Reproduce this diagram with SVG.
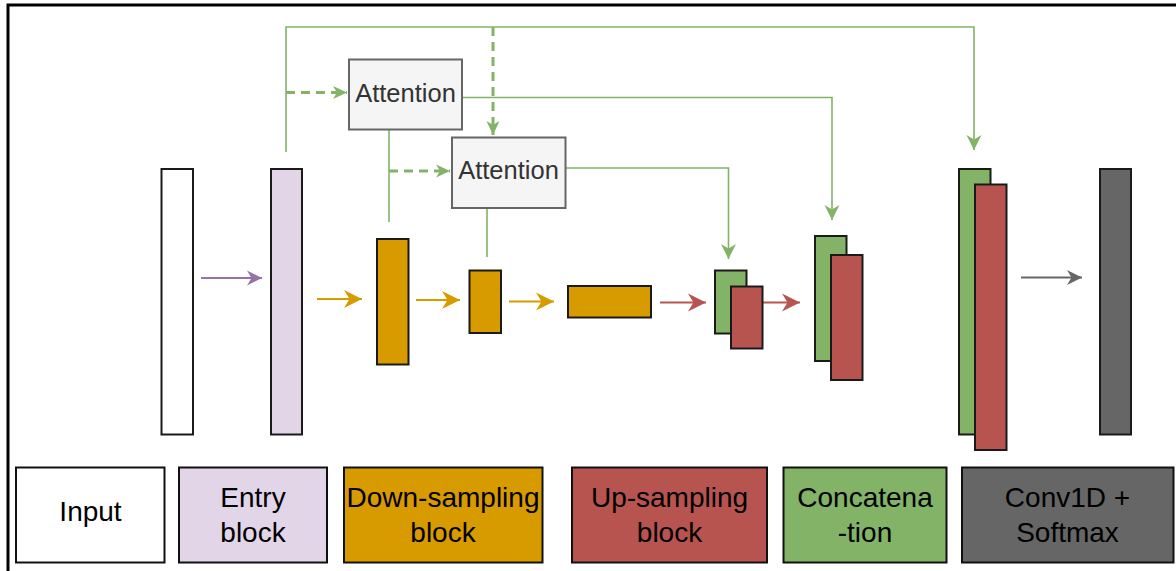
<svg xmlns="http://www.w3.org/2000/svg" width="1176" height="571" viewBox="0 0 1176 571">
<style>
.bar{stroke:#1a1a1a;stroke-width:2}
.leg{stroke:#111;stroke-width:2}
.att{fill:#f5f5f5;stroke:#666;stroke-width:2}
.lt{font-family:"Liberation Sans",Arial,sans-serif;font-size:28px;fill:#000;text-anchor:middle}
.at{font-family:"Liberation Sans",Arial,sans-serif;font-size:25.5px;fill:#333;text-anchor:middle}
.g{fill:none;stroke:#82b366;stroke-width:1.6}
.gd{fill:none;stroke:#82b366;stroke-width:3;stroke-dasharray:9 6}
</style>
<defs>
<marker id="mp" markerUnits="userSpaceOnUse" markerWidth="15" markerHeight="15" refX="15" refY="7.5" orient="auto" overflow="visible"><path d="M15,7.5 L0,0 L4.5,7.5 L0,15 Z" fill="#9673a6"/></marker>
<marker id="mo" markerUnits="userSpaceOnUse" markerWidth="18" markerHeight="18" refX="18" refY="9" orient="auto" overflow="visible"><path d="M18,9 L0,0 L5.5,9 L0,18 Z" fill="#d79b00"/></marker>
<marker id="mr" markerUnits="userSpaceOnUse" markerWidth="18" markerHeight="18" refX="18" refY="9" orient="auto" overflow="visible"><path d="M18,9 L0,0 L5.5,9 L0,18 Z" fill="#b85450"/></marker>
<marker id="mk" markerUnits="userSpaceOnUse" markerWidth="15" markerHeight="15" refX="15" refY="7.5" orient="auto" overflow="visible"><path d="M15,7.5 L0,0 L4.5,7.5 L0,15 Z" fill="#666"/></marker>
<marker id="mg" markerUnits="userSpaceOnUse" markerWidth="15" markerHeight="15" refX="15" refY="7.5" orient="auto" overflow="visible"><path d="M15,7.5 L0,0 L4.5,7.5 L0,15 Z" fill="#82b366"/></marker>
<marker id="mgd" markerUnits="userSpaceOnUse" markerWidth="14" markerHeight="13" refX="14" refY="6.5" orient="auto" overflow="visible"><path d="M14,6.5 L0,0 L4,6.5 L0,13 Z" fill="#82b366"/></marker>
</defs>
<rect x="0" y="0" width="1176" height="571" fill="#fff"/>
<rect x="8" y="5" width="1200" height="600" fill="none" stroke="#000" stroke-width="3"/>

<g id="connectors">
<line x1="201" y1="278" x2="262" y2="278" stroke="#9673a6" stroke-width="2" marker-end="url(#mp)"/>
<line x1="317" y1="299" x2="362" y2="299" stroke="#d79b00" stroke-width="2" marker-end="url(#mo)"/>
<line x1="416" y1="300" x2="460" y2="300" stroke="#d79b00" stroke-width="2" marker-end="url(#mo)"/>
<line x1="509" y1="301.5" x2="554" y2="301.5" stroke="#d79b00" stroke-width="2" marker-end="url(#mo)"/>
<line x1="660" y1="302.5" x2="706" y2="302.5" stroke="#b85450" stroke-width="2" marker-end="url(#mr)"/>
<line x1="762" y1="302.5" x2="800" y2="302.5" stroke="#b85450" stroke-width="2" marker-end="url(#mr)"/>
<line x1="1021" y1="277.5" x2="1082" y2="277.5" stroke="#666" stroke-width="2" marker-end="url(#mk)"/>
<polyline class="g" points="286,152 286,27 974,27 974,150" marker-end="url(#mg)"/>
<line class="gd" x1="286" y1="92.5" x2="347" y2="92.5" marker-end="url(#mgd)"/>
<line class="gd" x1="493" y1="27" x2="493" y2="135" marker-end="url(#mgd)"/>
<line class="g" x1="389" y1="130" x2="389" y2="222"/>
<line class="gd" x1="389" y1="171" x2="450" y2="171" marker-end="url(#mgd)"/>
<line class="g" x1="487" y1="208" x2="487" y2="257"/>
<polyline class="g" points="462,97.5 832,97.5 832,220" marker-end="url(#mg)"/>
<polyline class="g" points="566,168 728.5,168 728.5,259" marker-end="url(#mg)"/>
</g>

<g id="input-bar"><rect class="bar" x="161.5" y="169" width="31.5" height="265.5" fill="#fff"/></g>
<g id="entry-bar"><rect class="bar" x="271" y="169" width="31" height="265.5" fill="#e1d5e7"/></g>
<g id="down1"><rect class="bar" x="377" y="239" width="31.5" height="125.5" fill="#d79b00"/></g>
<g id="down2"><rect class="bar" x="469.5" y="270.5" width="31.5" height="62.5" fill="#d79b00"/></g>
<g id="bottleneck"><rect class="bar" x="568" y="286" width="83" height="31.5" fill="#d79b00"/></g>
<g id="concat1">
<rect class="bar" x="715" y="270.5" width="31.5" height="63" fill="#82b366"/>
<rect class="bar" x="731" y="286.5" width="31.5" height="62" fill="#b85450"/>
</g>
<g id="concat2">
<rect class="bar" x="815" y="236" width="31.5" height="125" fill="#82b366"/>
<rect class="bar" x="831" y="255" width="31.5" height="125" fill="#b85450"/>
</g>
<g id="concat3">
<rect class="bar" x="959" y="169" width="31.5" height="265.5" fill="#82b366"/>
<rect class="bar" x="975" y="184.5" width="31.5" height="265.5" fill="#b85450"/>
</g>
<g id="output-bar"><rect class="bar" x="1100" y="169" width="31" height="265.5" fill="#666"/></g>

<g id="attention1"><rect class="att" x="349" y="59.5" width="113" height="70"/><text class="at" x="405.5" y="101.5">Attention</text></g>
<g id="attention2"><rect class="att" x="452" y="137.5" width="113.5" height="70.5"/><text class="at" x="508.5" y="179">Attention</text></g>

<g id="legend-input"><rect class="leg" x="16" y="467.5" width="148.5" height="95" fill="#fff"/><text class="lt" x="90.5" y="521">Input</text></g>
<g id="legend-entry"><rect class="leg" x="179" y="467.5" width="148" height="95" fill="#e1d5e7"/><text class="lt" x="253" y="507">Entry</text><text class="lt" x="253" y="542">block</text></g>
<g id="legend-down"><rect class="leg" x="344" y="467.5" width="198.5" height="95" fill="#d79b00"/><text class="lt" x="443" y="507">Down-sampling</text><text class="lt" x="443" y="542">block</text></g>
<g id="legend-up"><rect class="leg" x="572" y="467.5" width="195" height="95" fill="#b85450"/><text class="lt" x="669.5" y="507">Up-sampling</text><text class="lt" x="669.5" y="542">block</text></g>
<g id="legend-concat"><rect class="leg" x="783.5" y="467.5" width="163" height="95" fill="#82b366"/><text class="lt" x="865" y="507">Concatena</text><text class="lt" x="865" y="542">-tion</text></g>
<g id="legend-conv"><rect class="leg" x="962" y="467.5" width="211.5" height="95" fill="#666"/><text class="lt" x="1067.5" y="507">Conv1D +</text><text class="lt" x="1067.5" y="542">Softmax</text></g>
</svg>
